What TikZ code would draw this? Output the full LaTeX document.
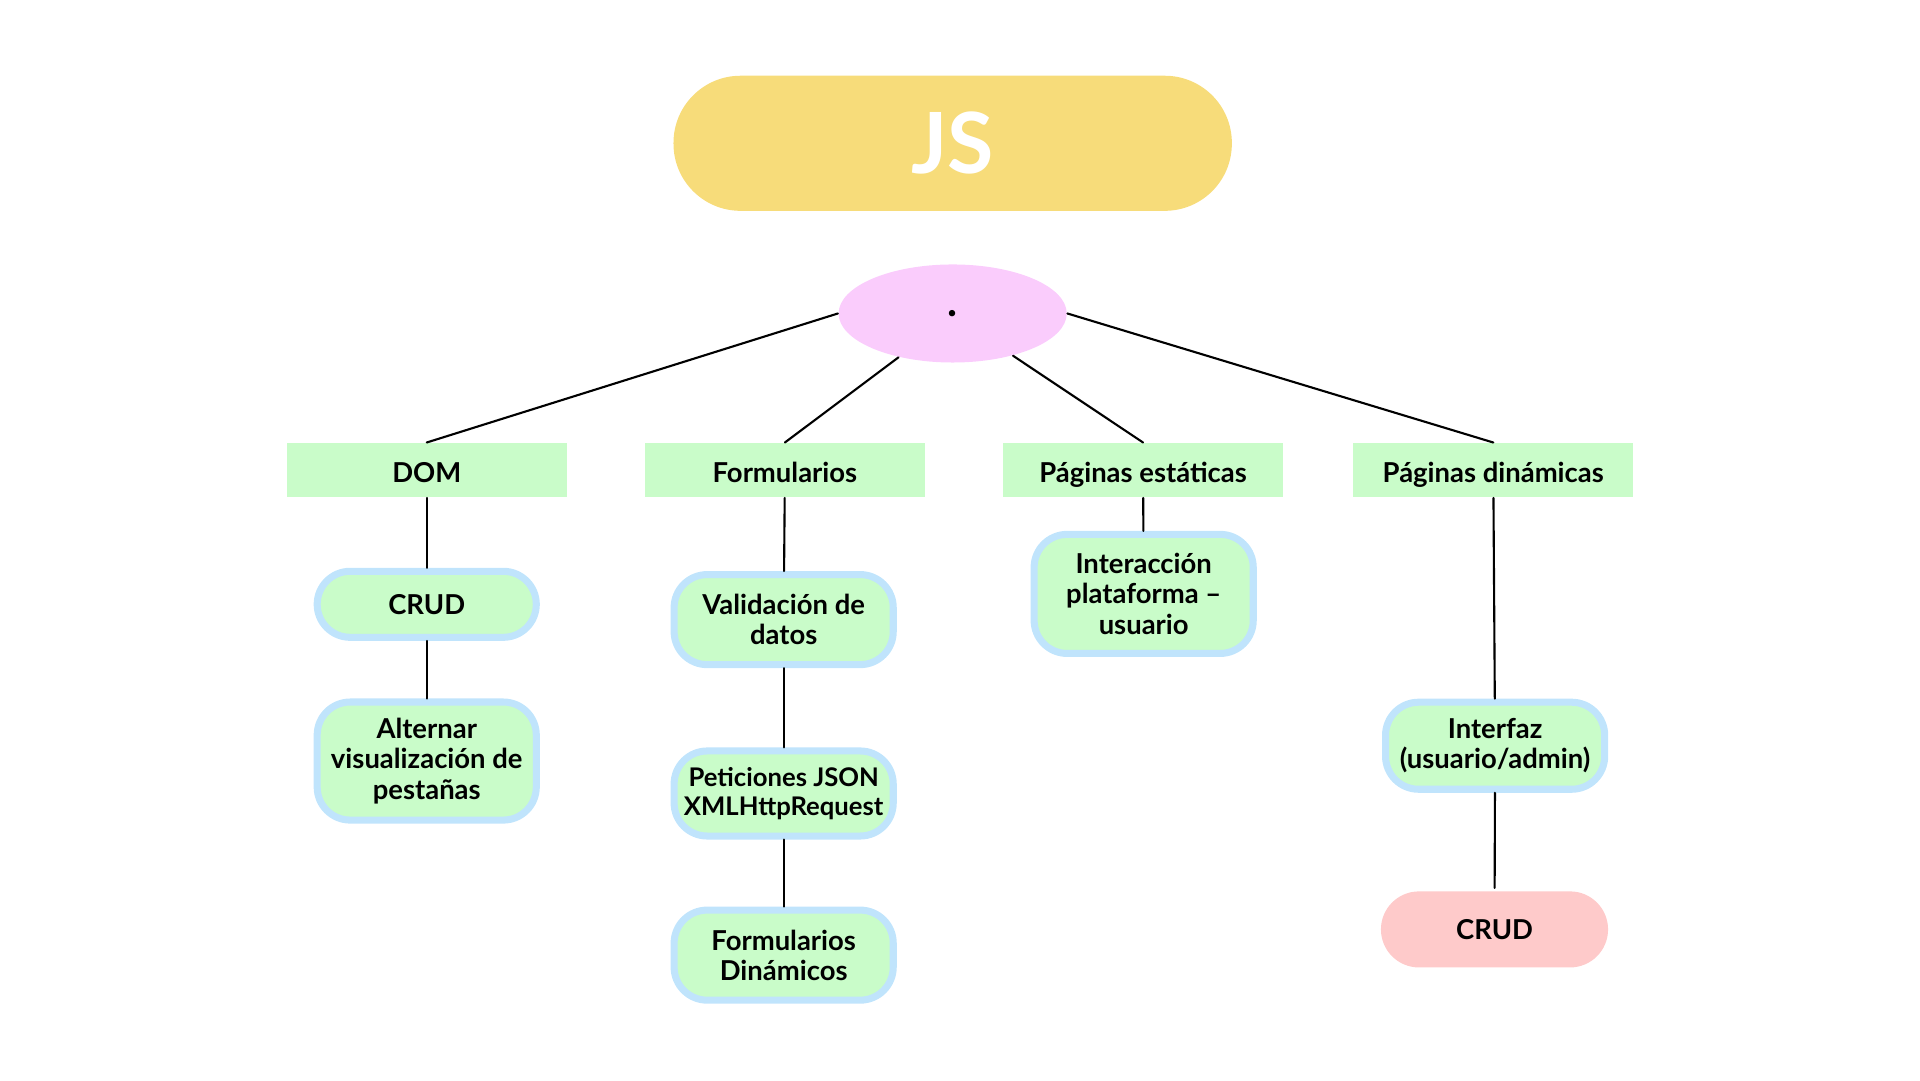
\documentclass[tikz,border=0pt]{standalone}
\usepackage{fontspec}
\setmainfont{Lato}
\usetikzlibrary{shapes.geometric}
\definecolor{jsyellow}{HTML}{F7DC7A}
\definecolor{hubpink}{HTML}{FACCFC}
\definecolor{temagreen}{HTML}{C9FCC9}
\definecolor{subblue}{HTML}{C0E4FC}
\definecolor{crudred}{HTML}{FECACA}
\tikzset{
	tema/.style={rectangle,fill=temagreen,minimum width=2.8cm,minimum height=0.54cm,inner sep=0pt,text height=0.72em,text depth=0pt,font=\bfseries\fontsize{7.8}{9}\selectfont},
	sub/.style={rectangle,rounded corners=0.33cm,fill=temagreen,draw=subblue,line width=2pt,minimum width=2.19cm,align=center,inner sep=0pt,font=\bfseries\fontsize{7.8}{8.6}\selectfont},
	enlace/.style={line width=0.6pt,black}
}
\begin{document}
\begin{tikzpicture}[line cap=round,line join=round,x=0.012245cm,y=-0.012245cm]
		\useasboundingbox (0,0) rectangle (1568,882);
		\node[rectangle,fill=jsyellow,rounded corners=0.67cm,minimum width=5.58cm,minimum height=1.35cm,text=white,font=\bfseries\fontsize{24}{28}\selectfont] (js) at (778,117) {JS};
		\node[ellipse,fill=hubpink,minimum width=2.28cm,minimum height=0.98cm,inner sep=0pt,font=\bfseries\fontsize{12}{14}\selectfont] (hub) at (778,256) {.};
		\node[tema] (dom) at (348.5,384) {DOM};
		\node[tema] (form) at (641,384) {Formularios};
		\node[tema] (est) at (933.5,384) {Páginas estáticas};
		\node[tema] (din) at (1219.5,384) {Páginas dinámicas};
		\node[sub,minimum height=0.66cm] (crud) at (348.5,493.5) {CRUD};
		\node[sub,minimum height=1.18cm] (alt) at (348.5,621.5) {Alternar\\visualización de\\pestañas};
		\node[sub,minimum height=0.9cm] (valid) at (640,506) {Validación de\\datos};
		\node[sub,minimum height=0.85cm,font=\bfseries\fontsize{7.3}{8.2}\selectfont] (pet) at (640,648) {Peticiones JSON\\XMLHttpRequest};
		\node[sub,minimum height=0.9cm] (fdin) at (640,780) {Formularios\\Dinámicos};
		\node[sub,minimum height=1.19cm] (inter) at (934,485) {Interacción\\plataforma –\\usuario};
		\node[sub,minimum height=0.87cm] (ifz) at (1221,609) {Interfaz\\(usuario/admin)};
		\node[sub,draw=none,fill=crudred,rounded corners=0.38cm,minimum width=2.27cm,minimum height=0.76cm] (crudb) at (1220.5,759) {CRUD};
		\draw[enlace] (hub.west) -- (dom.north);
		\draw[enlace] (hub.-141) -- (form.north);
		\draw[enlace] (hub.-35) -- (est.north);
		\draw[enlace] (hub.east) -- (din.north);
		\draw[enlace] (dom) -- (crud);
		\draw[enlace] (crud) -- (alt);
		\draw[enlace] (form) -- (valid);
		\draw[enlace] (valid) -- (pet);
		\draw[enlace] (pet) -- (fdin);
		\draw[enlace] (est) -- (inter);
		\draw[enlace] (din) -- (ifz);
		\draw[enlace] (ifz) -- (crudb);
\end{tikzpicture}
\end{document}
